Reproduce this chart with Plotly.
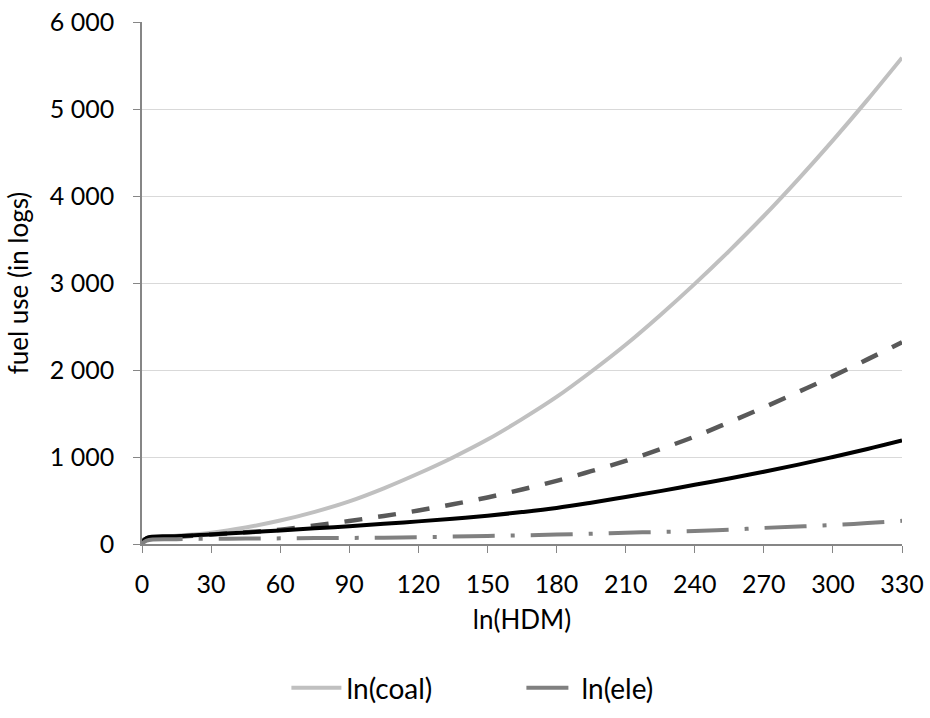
import plotly.graph_objects as go

# ln(HDM) values along the x axis
hdm = [0, 2, 15, 30, 45, 60, 75, 90, 105, 120, 135, 150, 165, 180,
       195, 210, 225, 240, 255, 270, 285, 300, 315, 330]

coal = [45, 60, 95, 130, 190, 270, 370, 490, 640, 810, 995, 1200, 1435, 1690,
        1980, 2290, 2630, 2990, 3370, 3770, 4195, 4640, 5105, 5590]
dashed_series = [30, 60, 82, 110, 135, 165, 212, 265, 322, 385, 457, 535, 627, 725,
                 837, 955, 1090, 1235, 1400, 1570, 1748, 1930, 2122, 2320]
black_series = [0, 70, 90, 110, 132, 155, 180, 205, 232, 260, 290, 325, 367, 415,
                475, 540, 608, 680, 753, 830, 912, 1000, 1092, 1190]
ele = [0, 40, 55, 60, 62, 65, 68, 70, 72, 78, 85, 92, 100, 108,
       118, 130, 138, 148, 163, 185, 200, 218, 240, 267]

font_name = "Lato, Carlito, Calibri, sans-serif"

fig = go.Figure()

fig.add_trace(go.Scatter(
    x=hdm, y=coal, mode="lines", name="ln(coal)", line_shape="spline",
    line=dict(color="#c0c0c0", width=4)
))
fig.add_trace(go.Scatter(
    x=hdm, y=dashed_series, mode="lines", name="ln(gas)", showlegend=False,
    line_shape="spline",
    line=dict(color="#595959", width=4.5, dash="18px,16px")
))
fig.add_trace(go.Scatter(
    x=hdm, y=black_series, mode="lines", name="ln(oil)", showlegend=False,
    line_shape="spline",
    line=dict(color="#000000", width=4)
))
fig.add_trace(go.Scatter(
    x=hdm, y=ele, mode="lines", name="ln(ele)", line_shape="spline",
    line=dict(color="#808080", width=4, dash="42px,16px,4px,16px")
))

fig.update_layout(
    width=930,
    height=718,
    margin=dict(l=142, r=28, t=22, b=174, autoexpand=False),
    plot_bgcolor="white",
    paper_bgcolor="white",
    separators=". ",
    font=dict(family=font_name, size=25, color="#000000"),
    legend=dict(
        orientation="h",
        x=0.19, xanchor="left",
        y=-0.276, yanchor="middle",
        font=dict(size=28),
        itemwidth=50,
        entrywidth=170,
        entrywidthmode="pixels",
        traceorder="normal",
    ),
)

fig.update_xaxes(
    range=[0, 330],
    tickmode="array",
    tickvals=[0, 30, 60, 90, 120, 150, 180, 210, 240, 270, 300, 330],
    ticks="outside",
    ticklen=7,
    tickcolor="#868686",
    ticklabelstandoff=10,
    ticklabeloverflow="allow",
    showline=True,
    linecolor="#868686",
    linewidth=1.5,
    showgrid=False,
    zeroline=False,
    automargin=False,
    title=dict(text="ln(HDM)", standoff=14, font=dict(size=26)),
    tickfont=dict(size=25),
)

fig.update_yaxes(
    range=[0, 6000],
    tickvals=[0, 1000, 2000, 3000, 4000, 5000, 6000],
    tickformat=",d",
    ticks="outside",
    ticklen=7,
    tickcolor="#868686",
    ticklabelstandoff=14,
    ticklabeloverflow="allow",
    showline=True,
    linecolor="#868686",
    linewidth=1.5,
    showgrid=True,
    gridcolor="#d9d9d9",
    gridwidth=1,
    zeroline=False,
    automargin=False,
    title=dict(text="fuel use (in logs)", standoff=14, font=dict(size=26)),
    tickfont=dict(size=25),
)

# drop the default 8px page margin so the figure fills the window exactly
fig.write_html("out.html", config={"displayModeBar": False},
               post_script="document.body.style.margin = '0';")
